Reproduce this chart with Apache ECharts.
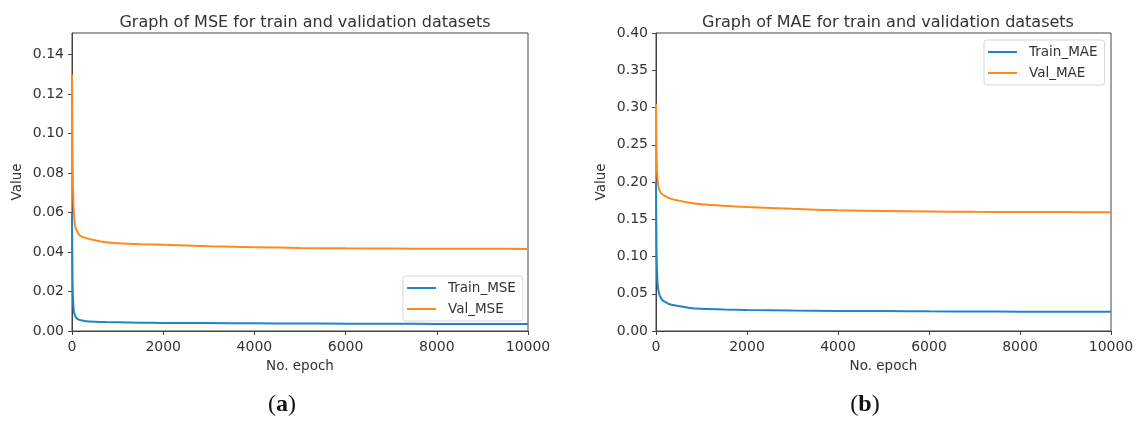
<!DOCTYPE html>
<html lang="en">
<head>
    <meta charset="UTF-8">
    <title>MSE / MAE training curves</title>
    <script src="https://cdn.jsdelivr.net/npm/echarts@6/dist/echarts.min.js"></script>
    <style>
        html, body { margin: 0; padding: 0; background: #fff; }
        #chart { width: 1138px; height: 421px; }
    </style>
</head>
<body>
    <div id="chart"></div>

    <script>
        const epochs = [0, 10, 20, 40, 70, 100, 150, 200, 300, 500, 750, 1000, 1500, 2000, 3000, 4000, 5000, 6000, 7000, 8000, 9000, 10000];

        // panel (a) - MSE
        const trainMSE = [0.06, 0.03, 0.018, 0.01, 0.0075, 0.0065, 0.0058, 0.0054, 0.005, 0.0047, 0.0045, 0.0044, 0.0042, 0.0041, 0.004, 0.0039, 0.0038, 0.0037, 0.0037, 0.0036, 0.0036, 0.0036];
        const valMSE = [0.13, 0.095, 0.075, 0.06, 0.053, 0.051, 0.049, 0.048, 0.0472, 0.046, 0.045, 0.0445, 0.044, 0.0437, 0.043, 0.0425, 0.0421, 0.0419, 0.0418, 0.0417, 0.0417, 0.0416];

        // panel (b) - MAE
        const trainMAE = [0.2, 0.12, 0.085, 0.06, 0.05, 0.045, 0.041, 0.039, 0.036, 0.0335, 0.031, 0.03, 0.029, 0.0283, 0.0275, 0.027, 0.0267, 0.0264, 0.0262, 0.026, 0.0259, 0.0258];
        const valMAE = [0.305, 0.25, 0.22, 0.2, 0.19, 0.186, 0.183, 0.181, 0.178, 0.175, 0.172, 0.17, 0.168, 0.1665, 0.164, 0.162, 0.1612, 0.1605, 0.16, 0.1598, 0.1596, 0.1594];

        const BLUE = '#1f84c8';
        const ORANGE = '#ff8a1a';
        const FONT = 'DejaVu Sans';

        function pairs(ys) {
            return epochs.map(function (e, i) { return [e, ys[i]]; });
        }

        function xAxis(idx) {
            return {
                type: 'value',
                gridIndex: idx,
                min: 0,
                max: 10000,
                interval: 2000,
                name: 'No. epoch',
                nameLocation: 'middle',
                nameGap: 28,
                nameTextStyle: { fontFamily: FONT, fontSize: 13.5, color: '#333' },
                axisLine: { show: true, lineStyle: { color: '#444', width: 1 } },
                axisTick: { show: true, length: 4, lineStyle: { color: '#444' } },
                axisLabel: {
                    margin: 9,
                    fontFamily: FONT,
                    fontSize: 14,
                    color: '#333',
                    formatter: function (v) { return String(v); }
                },
                splitLine: { show: false }
            };
        }

        function yAxis(idx, max, interval) {
            return {
                type: 'value',
                gridIndex: idx,
                min: 0,
                max: max,
                interval: interval,
                name: 'Value',
                nameLocation: 'middle',
                nameRotate: 90,
                nameGap: 48,
                nameTextStyle: { fontFamily: FONT, fontSize: 13.5, color: '#333' },
                axisLine: { show: true, lineStyle: { color: '#444', width: 1 } },
                axisTick: { show: true, length: 4, lineStyle: { color: '#444' } },
                axisLabel: {
                    margin: 8,
                    fontFamily: FONT,
                    fontSize: 14,
                    color: '#333',
                    showMaxLabel: max === 0.4,
                    formatter: function (v) { return v.toFixed(2); }
                },
                splitLine: { show: false }
            };
        }

        function line(name, idx, ys, color) {
            return {
                name: name,
                type: 'line',
                xAxisIndex: idx,
                yAxisIndex: idx,
                data: pairs(ys),
                smooth: 0.3,
                showSymbol: false,
                lineStyle: { color: color, width: 2 },
                itemStyle: { color: color }
            };
        }

        function legend(names, left, top) {
            return {
                data: names,
                orient: 'vertical',
                left: left,
                top: top,
                icon: 'rect',
                itemWidth: 29,
                itemHeight: 2,
                itemGap: 7,
                padding: [5, 7, 5, 4],
                backgroundColor: 'rgba(255,255,255,0.8)',
                borderColor: '#d6d6d6',
                borderWidth: 1,
                borderRadius: 3,
                textStyle: { fontFamily: FONT, fontSize: 13.5, color: '#333', lineHeight: 14, padding: [0, 0, 0, 7] }
            };
        }

        const chart = echarts.init(document.getElementById('chart'));
        chart.setOption({
            animation: false,
            title: [{
                text: 'Graph of MSE for train and validation datasets',
                left: 300,
                textAlign: 'center',
                top: 10,
                textStyle: { fontFamily: FONT, fontSize: 16, fontWeight: 'normal', color: '#333' }
            }, {
                text: 'Graph of MAE for train and validation datasets',
                left: 883,
                textAlign: 'center',
                top: 10,
                textStyle: { fontFamily: FONT, fontSize: 16, fontWeight: 'normal', color: '#333' }
            }],
            grid: [
                { left: 72, top: 33, width: 456, height: 298, show: true, borderColor: '#444', borderWidth: 1 },
                { left: 656, top: 33, width: 455, height: 298, show: true, borderColor: '#444', borderWidth: 1 }
            ],
            xAxis: [xAxis(0), xAxis(1)],
            yAxis: [yAxis(0, 0.151, 0.02), yAxis(1, 0.4, 0.05)],
            legend: [
                legend(['Train_MSE', 'Val_MSE'], 403, 276),
                legend(['Train_MAE', 'Val_MAE'], 984, 40)
            ],
            series: [
                line('Train_MSE', 0, trainMSE, BLUE),
                line('Val_MSE', 0, valMSE, ORANGE),
                line('Train_MAE', 1, trainMAE, BLUE),
                line('Val_MAE', 1, valMAE, ORANGE)
            ],
            graphic: [{
                type: 'text',
                x: 282,
                y: 405,
                style: {
                    text: '({a|a})',
                    rich: { a: { fontWeight: 'bold', fontFamily: 'Liberation Serif', fontSize: 24, fill: '#111' } },
                    fontFamily: 'Liberation Serif',
                    fontSize: 24,
                    fill: '#111',
                    align: 'center',
                    verticalAlign: 'middle'
                }
            }, {
                type: 'text',
                x: 865,
                y: 405,
                style: {
                    text: '({a|b})',
                    rich: { a: { fontWeight: 'bold', fontFamily: 'Liberation Serif', fontSize: 24, fill: '#111' } },
                    fontFamily: 'Liberation Serif',
                    fontSize: 24,
                    fill: '#111',
                    align: 'center',
                    verticalAlign: 'middle'
                }
            }]
        });
    </script>
</body>
</html>
